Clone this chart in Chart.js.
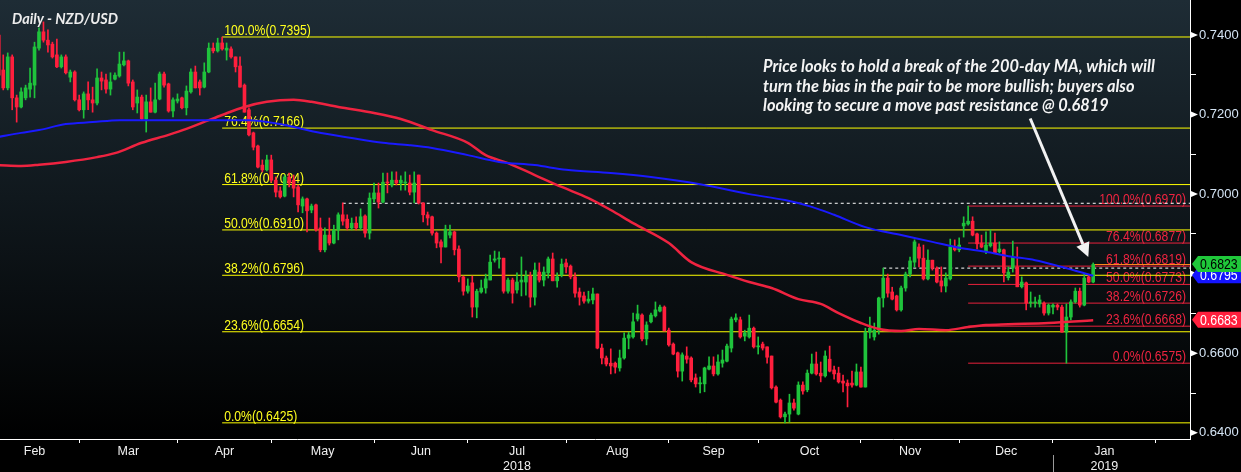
<!DOCTYPE html>
<html><head><meta charset="utf-8">
<script src="https://cdn.jsdelivr.net/npm/chart.js@4/dist/chart.umd.min.js"></script>
<style>html,body{margin:0;padding:0;background:#000;overflow:hidden}canvas{display:block}</style>
</head><body><canvas id="c" width="1241" height="472"></canvas>
<script>
// ---------- DATA (daily NZD/USD, weekday index 0 = 1 Mar 2018) ----------
const firstDay = -18;
const opens = [
.7400,.7312,.7267,.7345,.7242,.7219,.7242,.7264,.7274,.7367,
.7408,.7387,.7377,.7350,.7320,.7345,.7294,.7307,.7237,.7212,
.7252,.7237,.7229,.7292,.7287,.7264,.7289,.7297,.7325,.7335,
.7282,.7229,.7244,.7189,.7232,.7206,.7239,.7302,.7277,.7209,
.7234,.7242,.7217,.7257,.7307,.7282,.7269,.7307,.7367,.7360,
.7380,.7362,.7365,.7345,.7322,.7274,.7212,.7154,.7121,.7073,
.7061,.7086,.7035,.7008,.6995,.7043,.7035,.7018,.6970,.6988,
.6960,.6973,.6915,.6860,.6897,.6877,.6910,.6948,.6937,.6915,
.6927,.6915,.6945,.6902,.6988,.7003,.6980,.7030,.7023,.7035,
.7028,.7028,.7028,.7005,.7048,.6978,.6948,.6943,.6902,.6880,
.6867,.6897,.6905,.6862,.6792,.6756,.6777,.6716,.6754,.6764,
.6784,.6834,.6837,.6839,.6756,.6784,.6759,.6779,.6779,.6794,
.6741,.6804,.6784,.6802,.6837,.6782,.6797,.6827,.6819,.6792,
.6754,.6744,.6731,.6734,.6749,.6613,.6588,.6575,.6575,.6563,
.6588,.6638,.6641,.6686,.6696,.6636,.6679,.6694,.6706,.6716,
.6658,.6623,.6601,.6555,.6593,.6588,.6538,.6523,.6523,.6560,
.6568,.6548,.6575,.6580,.6613,.6684,.6684,.6643,.6641,.6663,
.6616,.6623,.6616,.6593,.6515,.6482,.6440,.6447,.6475,.6447,
.6520,.6508,.6550,.6573,.6550,.6543,.6585,.6558,.6550,.6530,
.6525,.6525,.6520,.6553,.6515,.6653,.6641,.6658,.6739,.6789,
.6754,.6744,.6709,.6764,.6799,.6829,.6867,.6839,.6787,.6834,
.6814,.6782,.6769,.6787,.6867,.6860,.6920,.6925,.6932,.6900,
.6877,.6855,.6870,.6877,.6855,.6860,.6790,.6814,.6817,.6767,
.6777,.6726,.6726,.6724,.6726,.6701,.6716,.6721,.6716,.6653,
.6691,.6729,.6756,.6721,.6792,.6779];
const highs = [
.7405,.7350,.7355,.7350,.7249,.7267,.7274,.7317,.7382,.7418,
.7433,.7413,.7382,.7390,.7350,.7350,.7312,.7310,.7249,.7257,
.7282,.7269,.7315,.7307,.7302,.7305,.7305,.7357,.7357,.7337,
.7287,.7262,.7249,.7249,.7267,.7279,.7307,.7307,.7279,.7242,
.7252,.7244,.7272,.7315,.7322,.7287,.7330,.7380,.7380,.7392,
.7395,.7380,.7370,.7345,.7345,.7277,.7217,.7156,.7123,.7086,
.7098,.7098,.7043,.7018,.7048,.7053,.7048,.7023,.6993,.6990,
.6975,.6975,.6940,.6915,.6940,.6922,.6953,.6978,.6948,.6940,
.6943,.6963,.6948,.7003,.7028,.7028,.7053,.7053,.7056,.7056,
.7046,.7056,.7048,.7056,.7048,.6978,.6955,.6945,.6905,.6885,
.6922,.6922,.6907,.6870,.6794,.6787,.6794,.6761,.6784,.6799,
.6847,.6857,.6855,.6839,.6789,.6789,.6802,.6842,.6807,.6804,
.6827,.6827,.6817,.6842,.6852,.6802,.6837,.6837,.6822,.6802,
.6764,.6754,.6756,.6764,.6749,.6623,.6593,.6611,.6578,.6608,
.6651,.6653,.6701,.6721,.6699,.6679,.6701,.6729,.6721,.6719,
.6663,.6626,.6603,.6601,.6616,.6591,.6548,.6540,.6565,.6591,
.6591,.6596,.6608,.6623,.6691,.6699,.6691,.6658,.6696,.6666,
.6641,.6628,.6616,.6593,.6518,.6485,.6452,.6497,.6485,.6528,
.6528,.6558,.6598,.6603,.6578,.6606,.6618,.6568,.6565,.6545,
.6533,.6555,.6573,.6565,.6663,.6691,.6676,.6741,.6814,.6799,
.6766,.6746,.6769,.6804,.6842,.6885,.6875,.6872,.6860,.6834,
.6817,.6817,.6802,.6887,.6885,.6890,.6943,.6970,.6943,.6902,
.6897,.6905,.6910,.6902,.6880,.6862,.6817,.6882,.6867,.6792,
.6779,.6754,.6741,.6746,.6729,.6724,.6724,.6724,.6721,.6724,
.6734,.6764,.6764,.6799,.6797,.6827];
const lows = [
.7297,.7262,.7262,.7212,.7181,.7217,.7237,.7244,.7242,.7362,
.7382,.7357,.7342,.7318,.7317,.7302,.7282,.7234,.7209,.7191,
.7212,.7206,.7224,.7262,.7254,.7249,.7287,.7294,.7322,.7272,
.7212,.7204,.7186,.7156,.7206,.7204,.7237,.7269,.7206,.7194,
.7229,.7214,.7199,.7254,.7267,.7249,.7267,.7305,.7355,.7357,
.7362,.7337,.7342,.7307,.7269,.7206,.7146,.7111,.7066,.7056,
.7058,.7030,.6993,.6990,.6993,.7018,.6993,.6955,.6953,.6905,
.6953,.6907,.6855,.6855,.6872,.6875,.6885,.6922,.6910,.6910,
.6910,.6910,.6892,.6887,.6980,.6965,.6978,.7003,.7018,.7023,
.7010,.7010,.6998,.6978,.6975,.6930,.6922,.6897,.6865,.6827,
.6867,.6890,.6847,.6779,.6746,.6751,.6691,.6689,.6751,.6751,
.6784,.6829,.6814,.6751,.6751,.6726,.6751,.6744,.6746,.6716,
.6721,.6779,.6769,.6789,.6782,.6766,.6792,.6802,.6787,.6741,
.6721,.6726,.6726,.6724,.6611,.6573,.6568,.6548,.6550,.6555,
.6585,.6611,.6638,.6681,.6631,.6621,.6676,.6691,.6704,.6656,
.6618,.6596,.6540,.6530,.6575,.6528,.6515,.6500,.6503,.6558,
.6543,.6545,.6565,.6578,.6603,.6679,.6638,.6631,.6638,.6613,
.6598,.6608,.6575,.6510,.6475,.6437,.6425,.6427,.6457,.6445,
.6497,.6503,.6548,.6545,.6528,.6540,.6553,.6535,.6525,.6503,
.6465,.6515,.6518,.6515,.6515,.6638,.6633,.6648,.6716,.6741,
.6734,.6706,.6706,.6756,.6792,.6817,.6817,.6784,.6784,.6809,
.6777,.6754,.6754,.6784,.6857,.6855,.6892,.6922,.6895,.6862,
.6865,.6850,.6867,.6850,.6852,.6779,.6784,.6804,.6767,.6764,
.6709,.6716,.6716,.6716,.6696,.6696,.6699,.6709,.6653,.6575,
.6684,.6726,.6716,.6719,.6777,.6777];
const closes = [
.7299,.7267,.7345,.7242,.7219,.7257,.7267,.7279,.7370,.7408,
.7387,.7375,.7345,.7320,.7345,.7305,.7307,.7237,.7212,.7252,
.7237,.7229,.7292,.7284,.7264,.7282,.7299,.7327,.7335,.7279,
.7219,.7244,.7189,.7232,.7206,.7237,.7302,.7274,.7209,.7237,
.7239,.7217,.7259,.7307,.7267,.7267,.7307,.7367,.7360,.7380,
.7365,.7367,.7345,.7320,.7269,.7206,.7149,.7118,.7068,.7061,
.7086,.7035,.7005,.6993,.7043,.7028,.7015,.6973,.6988,.6958,
.6970,.6910,.6860,.6897,.6877,.6910,.6948,.6932,.6915,.6927,
.6915,.6943,.6902,.6990,.7003,.6980,.7030,.7028,.7035,.7028,
.7035,.7030,.7005,.7028,.6978,.6948,.6940,.6902,.6877,.6867,
.6912,.6905,.6860,.6792,.6756,.6769,.6716,.6756,.6764,.6787,
.6829,.6837,.6839,.6756,.6784,.6751,.6779,.6784,.6794,.6741,
.6809,.6784,.6804,.6837,.6782,.6792,.6824,.6817,.6792,.6751,
.6741,.6731,.6736,.6749,.6613,.6588,.6573,.6568,.6565,.6588,
.6638,.6646,.6679,.6699,.6636,.6671,.6696,.6709,.6716,.6656,
.6621,.6598,.6555,.6596,.6585,.6533,.6523,.6525,.6563,.6568,
.6548,.6578,.6583,.6618,.6686,.6689,.6641,.6651,.6663,.6616,
.6618,.6613,.6590,.6513,.6477,.6440,.6447,.6475,.6462,.6520,
.6505,.6550,.6573,.6548,.6543,.6593,.6555,.6548,.6528,.6525,
.6518,.6520,.6553,.6515,.6653,.6663,.6658,.6739,.6789,.6751,
.6736,.6709,.6764,.6799,.6832,.6880,.6839,.6787,.6834,.6814,
.6779,.6769,.6789,.6867,.6860,.6872,.6927,.6932,.6897,.6875,
.6867,.6872,.6877,.6852,.6862,.6802,.6804,.6842,.6767,.6779,
.6726,.6729,.6729,.6734,.6701,.6721,.6721,.6716,.6653,.6691,
.6729,.6756,.6721,.6789,.6779,.6823];

// moving averages, read at sample days
const maRedDays   = [-18,-13,-9,-3,4,8,14,20,24,29,32,37,42,48,52,58,66,72,79,87,91,96,102,108,114,119,124,132,137,145,150,155,161,166,170,175,179,184,188,194,199,203,208,217,227];
const maRedValues = [.7073,.7071,.7074,.7081,.7093,.7103,.7129,.7149,.7164,.7186,.7199,.7219,.7232,.7237,.7232,.7219,.7204,.7189,.7161,.7129,.7098,.7078,.7048,.7018,.6990,.6960,.6927,.6877,.6829,.6797,.6779,.6764,.6736,.6724,.6701,.6676,.6661,.6656,.6661,.6658,.6666,.6671,.6673,.6676,.6683];
const maBlueDays   = [-18,-13,-9,-3,3,9,29,38,46,53,61,68,74,79,87,94,102,109,119,128,139,150,158,164,169,176,184,191,197,203,208,214,220,227];
const maBlueValues = [.7144,.7154,.7161,.7176,.7181,.7186,.7186,.7186,.7174,.7156,.7141,.7129,.7123,.7116,.7098,.7081,.7073,.7061,.7053,.7043,.7025,.7000,.6985,.6968,.6948,.6917,.6897,.6880,.6865,.6855,.6844,.6834,.6817,.6795];

// Fibonacci retracements
const fibPct = ['100.0%','76.4%','61.8%','50.0%','38.2%','23.6%','0.0%'];
const fibYellow = [0.7395,0.7166,0.7024,0.6910,0.6796,0.6654,0.6425];
const fibRed    = [0.6970,0.6877,0.6819,0.6773,0.6726,0.6668,0.6575];
const fibYellowStart = 32, fibRedStart = 199;
const resistLevels = [0.6977, 0.6814];
const resistStarts = [59, 180];

// axis labels
const monthStarts = [-20,0,22,43,66,87,109,132,152,175,197,218,241];
const monthLabels = ['Feb','Mar','Apr','May','Jun','Jul','Aug','Sep','Oct','Nov','Dec','Jan'];
const yearLabels = {5:'2018', 11:'2019'};
const yTickValues = [0.64,0.65,0.66,0.67,0.68,0.69,0.70,0.71,0.72,0.73,0.74];

const title = 'Daily - NZD/USD';
const noteLines = ['Price looks to hold a break of the 200-day MA, which will',
  'turn the bias in the pair to be more bullish; buyers also',
  'looking to secure a move past resistance @ 0.6819'];
const arrowFrom = {x:212.9, y:0.7190};
const arrowTo   = {x:225.9, y:0.6842};

// ---------- CHART ----------
const X_MIN = -17.73, X_MAX = 248.67, Y_MIN = 0.63844, Y_MAX = 0.7488;
const GREEN = '#1fc33c', RED = '#ff1f3d';
const SANS = '"Liberation Sans",Arial,sans-serif';
const ITAL = 'Lato,"Open Sans",sans-serif';

const days = opens.map((_, i) => firstDay + i);
const up = i => closes[i] >= opens[i];
const bodies = days.map((d, i) => ({x: d, y: [opens[i], closes[i]]}));
const wicks = days.map((d, i) => ({x: d, y: [lows[i], highs[i]]}));
const hline = (s, v) => [{x: s, y: v}, {x: X_MAX, y: v}];

const xTicks = [];
monthStarts.forEach((s, i) => {
  if (s >= X_MIN && s <= X_MAX) xTicks.push({value: s, label: '', major: true});
  if (i < monthLabels.length) {
    const c = (s + monthStarts[i + 1]) / 2;
    xTicks.push({value: c, label: yearLabels[i] ? [monthLabels[i], yearLabels[i]] : monthLabels[i], major: false});
  }
});
xTicks.sort((a, b) => a.value - b.value);
const isMajorY = v => Math.round(v * 100) % 2 === 0;

const lineDs = (data, color, extra) => Object.assign({type: 'line', data, borderColor: color, borderWidth: 1, pointRadius: 0, fill: false, order: 5}, extra || {});
const datasets = [];
fibYellow.forEach(v => datasets.push(lineDs(hline(fibYellowStart, v), '#ffff00')));
fibRed.forEach(v => datasets.push(lineDs(hline(fibRedStart, v), '#e8213c')));
resistLevels.forEach((v, i) => datasets.push(lineDs(hline(resistStarts[i], v), '#ffffff', {borderDash: [3, 3]})));
datasets.push(lineDs(hline(days[days.length - 1], closes[closes.length - 1]), '#ff8a1e'));
datasets.push({type: 'bar', data: wicks, backgroundColor: wicks.map((_, i) => up(i) ? GREEN : RED), barThickness: 1, grouped: false, order: 4, borderWidth: 0});
datasets.push({type: 'bar', data: bodies, backgroundColor: bodies.map((_, i) => up(i) ? GREEN : RED), barThickness: 3, minBarLength: 1, grouped: false, order: 3, borderWidth: 0});
datasets.push(lineDs(maBlueDays.map((d, i) => ({x: d, y: maBlueValues[i]})), '#1a1aff', {borderWidth: 2, order: 1, cubicInterpolationMode: 'monotone'}));
datasets.push(lineDs(maRedDays.map((d, i) => ({x: d, y: maRedValues[i]})), '#ef2340', {borderWidth: 2.5, order: 1, cubicInterpolationMode: 'monotone'}));

function narrowText(ctx, text, x, y, size, align, sx) {
  ctx.save();
  ctx.font = `${size}px ${SANS}`;
  ctx.textAlign = align;
  ctx.translate(x, y);
  ctx.scale(sx, 1);
  ctx.fillText(text, 0, 0);
  ctx.restore();
}

const bg = {
  id: 'bg',
  beforeDraw(chart) {
    const {ctx, chartArea: a} = chart;
    ctx.save();
    ctx.fillStyle = '#000';
    ctx.fillRect(0, 0, chart.width, chart.height);
    const g = ctx.createLinearGradient(0, a.top, 0, a.bottom);
    g.addColorStop(0, '#1e2c35');
    g.addColorStop(0.45, '#10181d');
    g.addColorStop(1, '#000000');
    ctx.fillStyle = g;
    ctx.fillRect(a.left, a.top, a.right - a.left, a.bottom - a.top);
    ctx.restore();
  },
  beforeDatasetsDraw(chart) {
    const {ctx, scales: {x, y}, chartArea: a} = chart;
    ctx.save();
    ctx.textBaseline = 'alphabetic';
    ctx.fillStyle = '#ffff1e';
    fibYellow.forEach((v, i) => narrowText(ctx, `${fibPct[i]}(${v.toFixed(4)})`, x.getPixelForValue(fibYellowStart) + 2, y.getPixelForValue(v) - 2, 14, 'left', 0.87));
    ctx.fillStyle = '#ee2440';
    fibRed.forEach((v, i) => narrowText(ctx, `${fibPct[i]}(${v.toFixed(4)})`, a.right - 4, y.getPixelForValue(v) - 2, 14, 'right', 0.87));
    ctx.restore();
  }
};

function fitFont(ctx, text, style, family, base, target) {
  ctx.font = `${style} ${base}px ${family}`;
  const w = ctx.measureText(text).width;
  return `${style} ${(base * target / w).toFixed(2)}px ${family}`;
}

const overlay = {
  id: 'overlay',
  afterDraw(chart) {
    const {ctx, scales: {x, y}, chartArea: a} = chart;
    ctx.save();
    // title
    ctx.fillStyle = '#ececec';
    ctx.textAlign = 'left';
    ctx.textBaseline = 'alphabetic';
    ctx.font = fitFont(ctx, title, 'italic bold', ITAL, 15, 106);
    ctx.fillText(title, 12, 24);
    // note
    ctx.fillStyle = '#f4f4f4';
    ctx.font = fitFont(ctx, noteLines[0], 'italic bold', ITAL, 15, 392);
    noteLines.forEach((t, i) => ctx.fillText(t, 763, 72 + i * 19.5));
    // arrow
    const p0 = {x: x.getPixelForValue(arrowFrom.x), y: y.getPixelForValue(arrowFrom.y)};
    const p1 = {x: x.getPixelForValue(arrowTo.x), y: y.getPixelForValue(arrowTo.y)};
    const ang = Math.atan2(p1.y - p0.y, p1.x - p0.x);
    const hl = 14, hw = 7;
    const bx = p1.x - hl * Math.cos(ang), by = p1.y - hl * Math.sin(ang);
    ctx.strokeStyle = '#f2f2f2'; ctx.fillStyle = '#f2f2f2'; ctx.lineWidth = 3;
    ctx.beginPath(); ctx.moveTo(p0.x, p0.y); ctx.lineTo(bx, by); ctx.stroke();
    ctx.beginPath(); ctx.moveTo(p1.x, p1.y);
    ctx.lineTo(bx + hw * Math.sin(ang), by - hw * Math.cos(ang));
    ctx.lineTo(bx - hw * Math.sin(ang), by + hw * Math.cos(ang));
    ctx.closePath(); ctx.fill();
    // y-axis markers
    ctx.fillStyle = '#ffffff';
    yTickValues.filter(isMajorY).forEach(v => {
      const py = y.getPixelForValue(v);
      ctx.beginPath(); ctx.moveTo(a.right + 1, py - 3); ctx.lineTo(a.right + 8, py); ctx.lineTo(a.right + 1, py + 3); ctx.closePath(); ctx.fill();
    });
    // value tags
    const tag = (val, fill, txt) => {
      const py = y.getPixelForValue(val) - 0.5, x0 = a.right + 2, h = 16;
      ctx.fillStyle = fill;
      ctx.beginPath(); ctx.moveTo(x0, py); ctx.lineTo(x0 + 6, py - h / 2); ctx.lineTo(chart.width, py - h / 2);
      ctx.lineTo(chart.width, py + h / 2); ctx.lineTo(x0 + 6, py + h / 2); ctx.closePath(); ctx.fill();
      ctx.fillStyle = txt; ctx.textBaseline = 'middle';
      narrowText(ctx, val.toFixed(4), a.right + 10, py + 1, 14, 'left', 0.88);
    };
    tag(maRedValues[maRedValues.length - 1], '#ff1f3d', '#ffffff');
    tag(maBlueValues[maBlueValues.length - 1], '#1414ff', '#ffffff');
    tag(closes[closes.length - 1], '#1fc83a', '#000000');
    // year separator
    const sx = Math.round(x.getPixelForValue(monthStarts[11])) + 0.5;
    ctx.strokeStyle = '#9a9a9a'; ctx.lineWidth = 1;
    ctx.beginPath(); ctx.moveTo(sx, 455); ctx.lineTo(sx, chart.height); ctx.stroke();
    ctx.restore();
  }
};

new Chart(document.getElementById('c'), {
  type: 'bar',
  data: {datasets},
  options: {
    responsive: false, animation: false, events: [],
    layout: {padding: 0, autoPadding: false},
    plugins: {legend: {display: false}, tooltip: {enabled: false}},
    scales: {
      x: {
        type: 'linear', min: X_MIN, max: X_MAX, offset: false,
        afterBuildTicks: s => { s.ticks = xTicks.map(t => ({value: t.value})); },
        afterFit: s => { s.height = 33; s.paddingLeft = 0; s.paddingRight = 0; },
        ticks: {autoSkip: false, maxRotation: 0, color: '#f0f0f0', padding: 1,
          font: {family: SANS, size: 12.5, lineHeight: 1.2},
          callback: (v, i) => xTicks[i] ? xTicks[i].label : ''},
        grid: {drawOnChartArea: false, offset: false, tickLength: 4, tickWidth: 1,
          tickColor: c => (xTicks[c.index] && xTicks[c.index].major) ? '#ffffff' : 'rgba(0,0,0,0)'},
        border: {color: '#ffffff', width: 1}
      },
      y: {
        type: 'linear', position: 'right', min: Y_MIN, max: Y_MAX,
        afterBuildTicks: s => { s.ticks = yTickValues.map(v => ({value: v})); },
        afterFit: s => { s.width = 51; s.paddingTop = 0; s.paddingBottom = 0; },
        ticks: {color: '#d4e4f4', padding: 3, font: {family: SANS, size: 13},
          callback: v => isMajorY(v) ? v.toFixed(4) : ''},
        grid: {drawOnChartArea: false, tickLength: 6, tickWidth: 1,
          tickColor: c => (c.tick && isMajorY(c.tick.value)) ? 'rgba(0,0,0,0)' : '#ffffff'},
        border: {color: '#ffffff', width: 1}
      }
    }
  },
  plugins: [bg, overlay]
});
</script>
</body></html>
